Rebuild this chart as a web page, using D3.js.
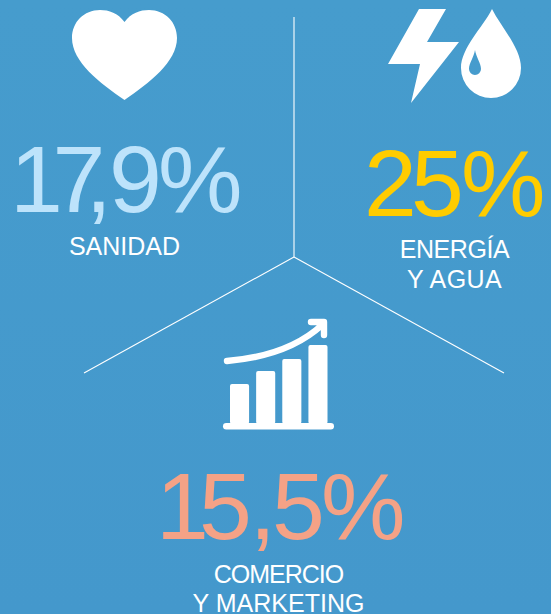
<!DOCTYPE html>
<html>
<head>
<meta charset="utf-8">
<script src="https://cdn.jsdelivr.net/npm/d3@7"></script>
<style>
  html, body { margin: 0; padding: 0; background: #459bcd; }
  svg { display: block; }
  text { font-family: "Liberation Sans", Arial, sans-serif; }
</style>
</head>
<body>
<svg class="chart"></svg>
<script>
const categories = [["SANIDAD"], ["ENERGÍA", "Y AGUA"], ["COMERCIO", "Y MARKETING"]];
const values = [17.9, 25, 15.5];
const colors = ["#bde3fb", "#ffcc00", "#f4a286"];
// the rising bars of the little chart icon
const iconBars = [40, 53, 65, 79];

const width = 551, height = 614;

const svg = d3.select(".chart")
    .attr("width", width)
    .attr("height", height);

// faint top to bottom shift of the blue
const grad = svg.append("defs").append("linearGradient")
    .attr("id", "bg").attr("x1", 0).attr("x2", 0).attr("y1", 0).attr("y2", 1);
grad.append("stop").attr("offset", "0%").attr("stop-color", "#469ccd");
grad.append("stop").attr("offset", "100%").attr("stop-color", "#4498cc");
svg.append("rect").attr("width", width).attr("height", height).attr("fill", "url(#bg)");

// dividers
const centre = [294, 257];
[[294, 17], [84, 373], [504, 373]].forEach(p => {
    svg.append("line")
        .attr("x1", centre[0]).attr("y1", centre[1])
        .attr("x2", p[0]).attr("y2", p[1])
        .attr("stroke", "#fff").attr("stroke-width", 1.1);
});

// one layout per block, the big numbers are kerned by hand (one x per glyph)
const layout = [
    { glyphX: "10 52.6 85.5 109 158", y: 212, labelX: 124.5, labelY: [255], spacing: [0] },
    { glyphX: "364 411 461", y: 216, labelX: 454.5, labelY: [258, 288], spacing: [-0.4, 0.4] },
    { glyphX: "156 199 249.5 272 321", y: 539, labelX: 278.5, labelY: [583, 612], spacing: [-1, 0] }
];

const fmt = d3.formatLocale({ decimal: ",", thousands: ".", grouping: [3], currency: ["", "€"] }).format(".1~f");

values.forEach((v, i) => {
    const l = layout[i];
    svg.append("text")
        .attr("x", l.glyphX).attr("y", l.y)
        .attr("fill", colors[i])
        .style("font-size", "95px")
        .text(fmt(v) + "%");

    categories[i].forEach((line, j) => {
        svg.append("text")
            .attr("x", l.labelX).attr("y", l.labelY[j])
            .attr("text-anchor", "middle")
            .attr("fill", "#fff")
            .style("font-size", "25px")
            .style("letter-spacing", l.spacing[j] + "px")
            .text(line);
    });
});

// heart
svg.append("path")
    .attr("fill", "#fff")
    .attr("d", "M124.5,22 C118,13 109,10 100,10 C84,10 72,22 72,38 C72,62 100,83 124.5,100 C149,83 177,62 177,38 C177,22 165,10 149,10 C140,10 131,13 124.5,22Z");

// bolt
svg.append("path")
    .attr("fill", "#fff")
    .attr("d", "M419,9 L446,9 L427,42 L459,42 L411,103 L420,64 L388,64Z");

// water drop with inner drop cut out
svg.append("path")
    .attr("fill", "#fff")
    .attr("fill-rule", "evenodd")
    .attr("d", "M492,9 C501,27 521,48 521,68 A30,30 0 0 1 461,68 C461,48 483,27 492,9Z M475,50 C474,57 469,63 469,69 A6,6 0 0 0 481,69 C481,63 476,57 475,50Z");

// growth icon, bars through scales
const xIcon = d3.scaleBand().domain(d3.range(iconBars.length)).range([230, 327.5]).paddingInner(0.27);
const yIcon = d3.scaleLinear().domain([0, 79]).range([424, 345]);

svg.selectAll(".icon_bar")
    .data(iconBars)
    .join("rect")
    .attr("class", "icon_bar")
    .attr("x", (d, i) => xIcon(i))
    .attr("y", d => yIcon(d))
    .attr("width", xIcon.bandwidth())
    .attr("height", d => yIcon(0) - yIcon(d))
    .attr("rx", 2)
    .attr("fill", "#fff");

svg.append("rect")
    .attr("x", 223).attr("y", 423)
    .attr("width", 111).attr("height", 6.5)
    .attr("rx", 3.2)
    .attr("fill", "#fff");

svg.append("path")
    .attr("fill", "none")
    .attr("stroke", "#fff")
    .attr("stroke-width", 6.4)
    .attr("stroke-linecap", "round")
    .attr("stroke-linejoin", "round")
    .attr("d", "M227,361 C262,358 297,348 322,325 M311,322 L324,322 L324,335");
</script>
</body>
</html>
